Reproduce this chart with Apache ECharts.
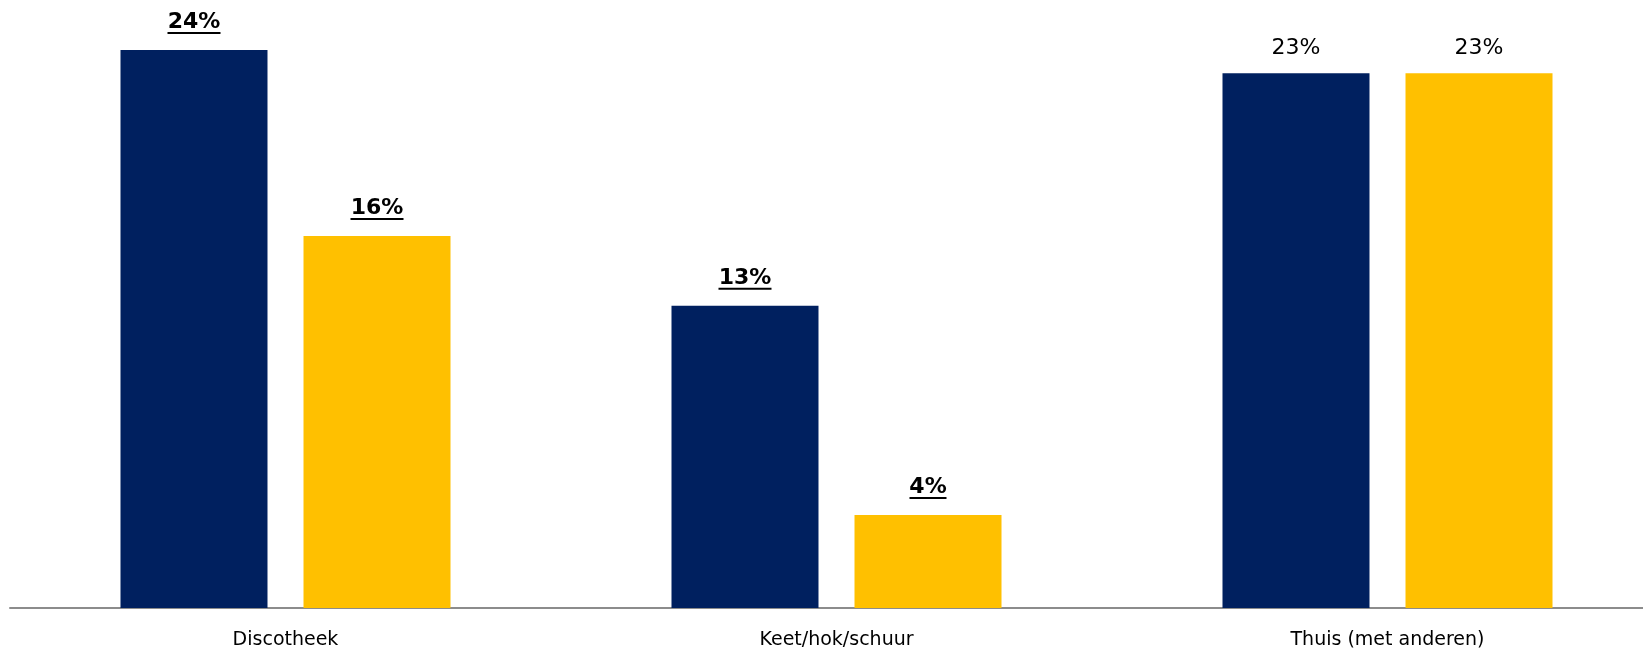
<!DOCTYPE html>
<html>
<head>
<meta charset="utf-8">
<script src="https://cdn.jsdelivr.net/npm/echarts@6/dist/echarts.min.js"></script>
<style>
html,body{margin:0;padding:0;background:#fff;overflow:hidden;width:1643px;height:653px;}
#chart{width:1663px;height:653px;}
</style>
</head>
<body>
<div id="chart"></div>
<script>
const categories = ['Discotheek', 'Keet/hok/schuur', 'Thuis (met anderen)'];
const seriesA = [24, 13, 23];
const seriesB = [16, 4, 23];
const sigA = [true, true, false];
const sigB = [true, true, false];

const FONT = '"DejaVu Sans", sans-serif';
const LABEL_SIZE = 22;

const cv = document.createElement('canvas').getContext('2d');
function textW(t, weight) {
  cv.font = weight + ' ' + LABEL_SIZE + 'px ' + FONT;
  return Math.round(cv.measureText(t).width);
}

function makeSeries(name, values, sig, color) {
  return {
    name: name,
    type: 'bar',
    barWidth: 147,
    barGap: '24.5%',
    itemStyle: { color: color },
    data: values.map((v, i) => {
      const txt = v + '%';
      if (sig[i]) {
        const w = textW(txt, 'bold');
        return {
          value: v,
          label: {
            formatter: '{b|' + txt + '}\n{u| }',
            rich: {
              b: { fontFamily: FONT, fontSize: LABEL_SIZE, fontWeight: 'bold', color: '#000', lineHeight: 19 },
              u: { width: w, height: 2, lineHeight: 2, fontSize: 1, backgroundColor: '#000' }
            },
            distance: 16
          }
        };
      }
      return { value: v, label: { formatter: txt, fontWeight: 'normal', distance: 14 } };
    }),
    label: {
      show: true,
      position: 'top',
      fontFamily: FONT,
      fontSize: LABEL_SIZE,
      color: '#000'
    }
  };
}

const chart = echarts.init(document.getElementById('chart'));
chart.setOption({
  backgroundColor: '#fff',
  animation: false,
  grid: { left: 10, top: 26.75, width: 1653, height: 581.25, containLabel: false },
  xAxis: {
    type: 'category',
    data: categories,
    axisLine: { lineStyle: { color: '#8c8c8c', width: 2 } },
    axisTick: { show: false },
    axisLabel: { fontFamily: FONT, fontSize: 19, color: '#000', margin: 23 }
  },
  yAxis: {
    type: 'value', min: 0, max: 25, show: false, splitLine: { show: false }
  },
  series: [
    makeSeries('Groep 1', seriesA, sigA, '#00205F'),
    makeSeries('Groep 2', seriesB, sigB, '#FFC000')
  ]
});
</script>
</body>
</html>
